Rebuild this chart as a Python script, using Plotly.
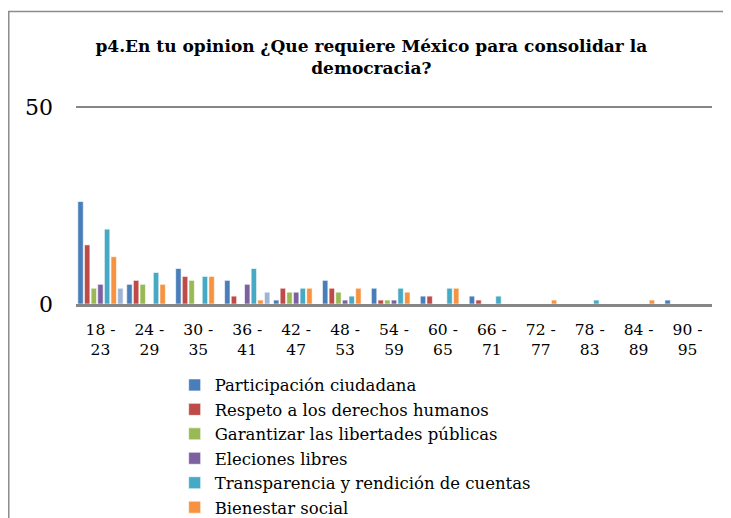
import plotly.graph_objects as go

# age groups on the x axis
age_groups = ["18 -<br>23", "24 -<br>29", "30 -<br>35", "36 -<br>41", "42 -<br>47",
              "48 -<br>53", "54 -<br>59", "60 -<br>65", "66 -<br>71", "72 -<br>77",
              "78 -<br>83", "84 -<br>89", "90 -<br>95"]

participacion = [26, 5, 9, 6, 1, 6, 4, 2, 2, 0, 0, 0, 1]
respeto = [15, 6, 7, 2, 4, 4, 1, 2, 1, 0, 0, 0, 0]
garantizar = [4, 5, 6, 0, 3, 3, 1, 0, 0, 0, 0, 0, 0]
elecciones = [5, 0, 0, 5, 3, 1, 1, 0, 0, 0, 0, 0, 0]
transparencia = [19, 8, 7, 9, 4, 2, 4, 4, 2, 0, 1, 0, 0]
bienestar = [12, 5, 7, 1, 4, 4, 3, 4, 0, 1, 0, 1, 0]
otro = [4, 0, 0, 3, 0, 0, 0, 0, 0, 0, 0, 0, 0]  # 7th series, legend entry cut off in original

series = [
    ("Participación ciudadana", participacion, "#4A7EBB", True),
    ("Respeto a los derechos humanos", respeto, "#BE4B48", True),
    ("Garantizar las libertades públicas", garantizar, "#98B954", True),
    ("Eleciones libres", elecciones, "#7D60A0", True),
    ("Transparencia y rendición de cuentas", transparencia, "#46AAC5", True),
    ("Bienestar social", bienestar, "#F69240", True),
    ("Otro", otro, "#9CB3DA", False),
]

serif = "DejaVu Serif"

fig = go.Figure()
for name, vals, color, show in series:
    fig.add_trace(go.Bar(
        x=age_groups, y=vals, name=name, showlegend=show,
        marker=dict(color=color, line=dict(color="rgba(255,255,255,0.6)", width=1)),
    ))

# page body adds ~8px offset, so margins are shifted up/left to compensate
fig.update_layout(
    width=731, height=518,
    barmode="group", bargap=0.05, bargroupgap=0.18,
    plot_bgcolor="white", paper_bgcolor="white",
    margin=dict(l=68, r=27, t=97, b=222, autoexpand=False),
    font=dict(family=serif, color="black"),
    title=dict(
        text="<b>p4.En tu opinion ¿Que requiere México para consolidar la<br>democracia?</b>",
        x=0.497, xanchor="center", y=0.915, yanchor="middle",
        font=dict(family=serif, size=17, color="black"),
    ),
    legend=dict(
        xref="container", yref="container",
        x=0.228, xanchor="left", y=0.3056, yanchor="top",
        font=dict(family=serif, size=16.5), tracegroupgap=0,
        itemwidth=30, bgcolor="rgba(0,0,0,0)",
    ),
)

fig.update_yaxes(
    range=[0, 50.5], tickvals=[0, 50], showgrid=True, gridcolor="#868686", gridwidth=2,
    zeroline=False, showline=False, tickfont=dict(size=22), ticks="",
    ticklabelstandoff=22,
)
fig.update_xaxes(
    showline=True, linecolor="#868686", linewidth=3, ticks="",
    tickfont=dict(size=15.5), ticklabelstandoff=9,
)

# outer chart border
fig.add_shape(type="rect", xref="paper", yref="paper",
              x0=-0.1057, x1=1.019, y0=-1.5, y1=1.47,
              line=dict(color="#8c8c8c", width=1.5))

fig.write_html("out.html")
